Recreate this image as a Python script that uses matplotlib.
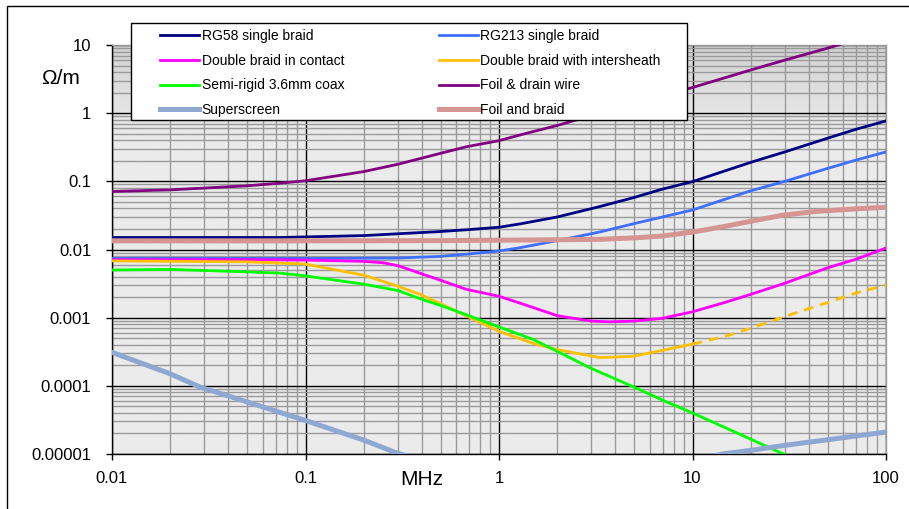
import numpy as np
import matplotlib
matplotlib.use("Agg")
import matplotlib.pyplot as plt
from matplotlib.ticker import FixedLocator, FixedFormatter, LogLocator, NullFormatter

plt.rcParams['font.family'] = ['Liberation Sans', 'DejaVu Sans']

# --- data (frequency in MHz, transfer impedance in ohm/m) ---
rg58_f = [0.01, 0.05, 0.074, 0.2, 0.49, 0.7, 1, 1.28, 2, 3.3, 5, 7, 10, 20, 30, 50, 70, 100]
rg58_z = [0.015, 0.015, 0.015, 0.016, 0.0183, 0.0196, 0.0212, 0.0237, 0.03, 0.0425, 0.058, 0.077,
          0.099, 0.19, 0.27, 0.43, 0.58, 0.77]

rg213_f = [0.01, 0.1, 0.3, 0.49, 0.7, 1, 1.28, 2, 3.3, 5, 7, 10, 19.8, 30, 50, 70, 100]
rg213_z = [0.0074, 0.0074, 0.0075, 0.0079, 0.0086, 0.0095, 0.0106, 0.0135, 0.018, 0.024, 0.03,
           0.038, 0.072, 0.1, 0.155, 0.205, 0.27]

contact_f = [0.01, 0.05, 0.1, 0.2, 0.25, 0.3, 0.39, 0.49, 0.68, 1, 1.28, 2, 3, 3.7, 5, 7, 10, 15,
             20, 30, 50, 70, 100]
contact_z = [0.0071, 0.0071, 0.007, 0.0067, 0.0064, 0.0058, 0.0045, 0.0036, 0.0026, 0.00206,
             0.00164, 0.00107, 0.00089, 0.00087, 0.00089, 0.00098, 0.00122, 0.0017, 0.0022, 0.0032,
             0.0054, 0.0072, 0.0105]

inter_f = [0.01, 0.05, 0.1, 0.2, 0.3, 0.39, 0.49, 0.68, 1, 1.5, 2, 3.3, 4.9, 7.3, 10]
inter_z = [0.0068, 0.0066, 0.0061, 0.0042, 0.0029, 0.0022, 0.00164, 0.00106, 0.00063, 0.00042,
           0.00034, 0.00026, 0.00027, 0.00034, 0.00041]
inter_ext_f = [10, 15, 20, 30, 50, 70, 100]
inter_ext_z = [0.00041, 0.00054, 0.0007, 0.00104, 0.00167, 0.0023, 0.003]

semi_f = [0.01, 0.02, 0.05, 0.074, 0.1, 0.2, 0.3, 0.39, 0.49, 0.68, 1, 1.5, 2, 3, 5, 7, 10, 20, 30]
semi_z = [0.005, 0.0051, 0.0047, 0.0045, 0.0041, 0.0031, 0.0025, 0.0019, 0.00154, 0.0011, 0.00073,
          0.00048, 0.00032, 0.00018, 0.0000955, 0.0000617, 0.00004, 0.0000165, 0.0000098]

drain_f = [0.01, 0.02, 0.05, 0.074, 0.1, 0.2, 0.3, 0.5, 0.68, 1, 1.28, 2, 3, 5, 7, 10, 20, 30, 50,
           70, 100]
drain_z = [0.071, 0.075, 0.086, 0.094, 0.102, 0.139, 0.178, 0.258, 0.322, 0.395, 0.478, 0.66, 0.92,
           1.35, 1.8, 2.38, 4.3, 6.0, 9.0, 12.0, 16.0]

super_f = [0.01, 0.02, 0.0285, 0.05, 0.1, 0.2, 0.3, 0.5, 1, 2, 5, 10, 14.3, 20, 30, 50, 100]
super_z = [0.00031, 0.00015, 0.000096, 0.000058, 0.000031, 0.000016, 0.0000102, 0.000007, 0.000005,
           0.0000045, 0.0000055, 0.000008, 0.00001, 0.0000113, 0.0000134, 0.0000162, 0.000021]

foil_f = [0.01, 0.1, 0.5, 1, 2, 3.3, 5, 7, 10, 15, 19.8, 29.2, 43.7, 70, 100]
foil_z = [0.0134, 0.0134, 0.0135, 0.0137, 0.0139, 0.0141, 0.0148, 0.0158, 0.018, 0.0221, 0.0258,
          0.0318, 0.0362, 0.0395, 0.0417]

x_ticks = [0.01, 0.1, 1, 10, 100]
x_labels = ['0.01', '0.1', '1', '10', '100']
y_ticks = [0.00001, 0.0001, 0.001, 0.01, 0.1, 1, 10]
y_labels = ['0.00001', '0.0001', '0.001', '0.01', '0.1', '1', '10']

W, H = 909, 509
fig = plt.figure(figsize=(W / 100, H / 100), dpi=100)
ax = fig.add_axes([112 / W, 1 - 454 / H, (886 - 112) / W, (454 - 45) / H])

# grey background, darkening towards the bottom
t = np.linspace(0, 1, 256)
shade = 0.92 - 0.10 * np.clip((t - 0.75) / 0.25, 0, 1) ** 1.3
grad = np.repeat(shade[::-1, None], 2, axis=1)
ax.imshow(grad, extent=[0, 1, 0, 1], transform=ax.transAxes, aspect='auto',
          cmap='gray', vmin=0, vmax=1, zorder=0, origin='upper')
ax.set_facecolor('none')

ax.set_xscale('log')
ax.set_yscale('log')

lw = 2.0
ax.plot(rg58_f, rg58_z, color='#000080', lw=lw, label='RG58 single braid', zorder=3)
ax.plot(rg213_f, rg213_z, color='#3f6fff', lw=lw, label='RG213 single braid', zorder=3)
ax.plot(contact_f, contact_z, color='#ff00ff', lw=lw, label='Double braid in contact', zorder=3)
ax.plot(inter_f, inter_z, color='#ffc000', lw=lw, label='Double braid with intersheath', zorder=3)
ax.plot(inter_ext_f, inter_ext_z, color='#ffc000', lw=lw, dashes=(3.5, 2.5), zorder=3)
ax.plot(semi_f, semi_z, color='#00ff00', lw=lw, label='Semi-rigid 3.6mm coax', zorder=3)
ax.plot(drain_f, drain_z, color='#800080', lw=lw, label='Foil & drain wire', zorder=3)
ax.plot(super_f, super_z, color='#8ea8d2', lw=3.6, label='Superscreen', zorder=3)
ax.plot(foil_f, foil_z, color='#d59592', lw=3.6, label='Foil and braid', zorder=3)

ax.set_xlim(0.01, 100)
ax.set_ylim(0.00001, 10)

ax.xaxis.set_major_locator(FixedLocator(x_ticks))
ax.xaxis.set_major_formatter(FixedFormatter(x_labels))
ax.yaxis.set_major_locator(FixedLocator(y_ticks))
ax.yaxis.set_major_formatter(FixedFormatter(y_labels))
ax.xaxis.set_minor_locator(LogLocator(base=10, subs=np.arange(2, 10)))
ax.yaxis.set_minor_locator(LogLocator(base=10, subs=np.arange(2, 10)))
ax.xaxis.set_minor_formatter(NullFormatter())
ax.yaxis.set_minor_formatter(NullFormatter())

ax.set_axisbelow(True)
ax.grid(which='minor', color='#9a9a9a', lw=1.0)
ax.grid(which='major', color='black', lw=1.0)

ax.tick_params(which='major', direction='out', length=4, width=1, labelsize=12, color='black')
ax.tick_params(axis='x', which='major', pad=8)
ax.tick_params(axis='y', which='major', pad=11)
ax.tick_params(which='minor', length=0)
ax.tick_params(top=False, right=False)

for side in ['left', 'bottom']:
    ax.spines[side].set_color('black')
    ax.spines[side].set_linewidth(1)
for side in ['top', 'right']:
    ax.spines[side].set_color('#9a9a9a')
    ax.spines[side].set_linewidth(1)

fig.text(61 / W, 1 - 84 / H, 'Ω/m', fontsize=15, ha='center', va='baseline')
fig.text(421.5 / W, 1 - 485 / H, 'MHz', fontsize=15, ha='center', va='baseline')

# legend: white box drawn separately, two columns
box = plt.Rectangle((131 / W, 1 - 120 / H), (687 - 131) / W, (120 - 23) / H,
                    transform=fig.transFigure, facecolor='white', edgecolor='black',
                    lw=1, zorder=3)
fig.patches.append(box)

handles, labels = ax.get_legend_handles_labels()
order = ['RG58 single braid', 'Double braid in contact', 'Semi-rigid 3.6mm coax', 'Superscreen',
         'RG213 single braid', 'Double braid with intersheath', 'Foil & drain wire', 'Foil and braid']
lookup = dict(zip(labels, handles))
fig.legend([lookup[k] for k in order], order, loc='upper left',
           bbox_to_anchor=(160 / W, 1 - 29 / H), bbox_transform=fig.transFigure,
           ncol=2, frameon=False, fontsize=10, borderpad=0, borderaxespad=0,
           handlelength=2.8, handletextpad=0.2, columnspacing=6.8, labelspacing=0.77)

# outer frame of the chart area (runs off the right and bottom edges)
frame = plt.Rectangle((7 / W, -0.2), 1.2, 1 - 6 / H + 0.2, transform=fig.transFigure,
                      fill=False, edgecolor='black', lw=1, zorder=1)
fig.patches.append(frame)

fig.savefig('out.png', dpi=100)
